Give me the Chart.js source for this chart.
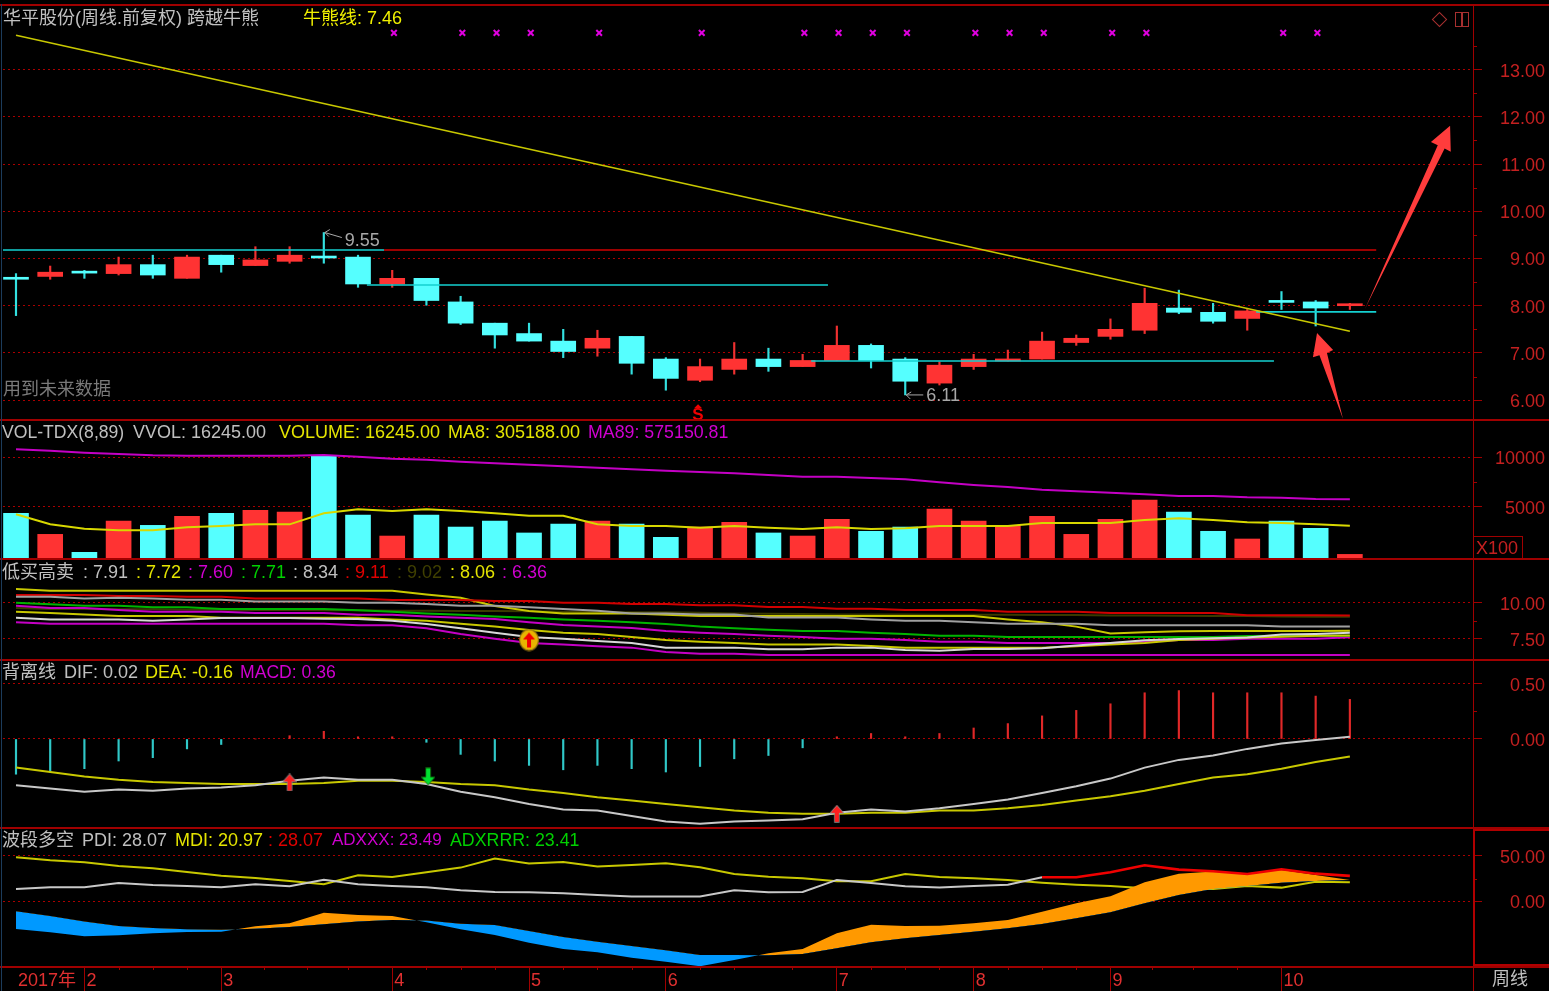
<!DOCTYPE html>
<html><head><meta charset="utf-8">
<script src="https://cdn.jsdelivr.net/npm/chart.js@4/dist/chart.umd.js"></script>
<style>
html,body{margin:0;padding:0;background:#000;width:1549px;height:991px;overflow:hidden}
canvas{position:absolute;left:0;display:block}
.t{position:absolute;white-space:pre;font:18px 'Liberation Sans','Noto Sans CJK SC',sans-serif;line-height:22px;height:22px}
.r{position:absolute;background:#a00000}
</style></head><body>
<script>
// ---------- data ----------
const opens =[8.57,8.62,8.70,8.68,8.87,8.58,9.07,8.85,8.94,9.02,9.03,8.46,8.58,8.08,7.63,7.41,7.25,7.10,7.35,6.87,6.42,6.65,6.87,6.71,6.84,7.16,6.87,6.36,6.71,6.83,6.87,7.22,7.35,7.48,7.95,7.86,7.73,8.08,8.08,8.00];
const highs =[8.68,8.84,8.75,9.03,9.07,9.07,9.07,9.25,9.25,9.55,9.07,8.75,8.58,8.20,7.63,7.63,7.50,7.48,7.35,6.90,6.87,7.22,7.10,6.97,7.57,7.19,6.90,6.81,6.97,7.06,7.44,7.38,7.72,8.37,8.33,8.05,7.92,8.30,8.11,8.05];
const lows  =[7.79,8.56,8.58,8.65,8.58,8.58,8.71,8.85,8.90,8.90,8.39,8.39,8.01,7.60,7.10,7.25,6.90,6.93,6.55,6.21,6.39,6.55,6.61,6.71,6.84,6.68,6.11,6.32,6.65,6.83,6.87,7.16,7.29,7.41,7.83,7.63,7.48,7.92,7.57,7.92];
const closes=[8.56,8.71,8.69,8.87,8.65,9.03,8.87,8.97,9.07,9.01,8.46,8.58,8.11,7.63,7.38,7.25,7.03,7.31,6.78,6.46,6.71,6.87,6.71,6.84,7.16,6.84,6.40,6.74,6.87,6.87,7.25,7.31,7.50,8.05,7.86,7.67,7.89,8.07,7.95,8.01];
const bullBearLine=[{x:0,y:13.73},{x:39,y:7.46}];
const resistLine=[{x:10.76,y:9.18},{x:39.77,y:9.18}];
const cyanLine1=[{x:-0.38,y:9.18},{x:10.76,y:9.18}];
const cyanLine2=[{x:10.26,y:8.44},{x:23.74,y:8.44}];
const cyanLine3=[{x:23.25,y:6.83},{x:36.78,y:6.83}];
const cyanLine4=[{x:36.26,y:7.87},{x:39.77,y:7.87}];
const crossWeeks=[11.05,13.05,14.05,15.05,17.05,20.05,23.05,24.05,25.05,26.05,28.05,29.05,30.05,32.05,33.05,37.05,38.05];
const crossLevel=13.78;
const arrowBig=[[39.44,7.93],[41.77,11.33],[41.95,11.26],[41.93,11.81],[41.37,11.47],[41.57,11.40]];
const arrowSmall=[[38.80,5.60],[38.33,7.00],[38.51,7.06],[38.04,7.42],[37.92,6.91],[38.11,6.95]];
const volume=[4320,2190,370,3540,3100,4010,4320,4620,4450,10120,4150,2020,4150,2930,3540,2330,3240,3540,3240,1890,2930,3410,2330,2020,3710,2500,2930,4760,3540,3100,4010,2190,3710,5670,4450,2500,1720,3540,2800,162];
const ma8=[4217,3205,2766,2598,2598,2901,3036,3205,3205,4318,4723,4554,4723,4554,4318,4081,4081,3205,3036,3036,2867,3036,2867,2732,2901,2732,2800,3036,3036,3036,3340,3340,3340,3643,3812,3643,3407,3340,3205,3052];
const ma89=[10795,10660,10458,10323,10188,10154,10154,10154,10154,10221,10053,9850,9749,9547,9378,9243,9075,8940,8771,8636,8501,8366,8198,8029,8029,7894,7759,7455,7186,6983,6713,6545,6410,6241,6073,6073,5938,5904,5769,5751];
const lowWhite=[8.96,8.84,8.84,8.84,8.75,8.84,8.94,8.94,8.94,8.89,8.87,8.75,8.52,8.22,7.92,7.62,7.50,7.34,7.20,6.88,6.88,6.88,6.76,6.76,6.88,6.88,6.71,6.67,6.78,6.78,6.83,7.02,7.20,7.39,7.48,7.53,7.59,7.80,7.83,7.91];
const lowYellow=[9.38,9.28,9.19,9.08,9.08,9.08,8.96,8.96,8.96,8.96,8.96,8.84,8.75,8.54,8.34,8.10,7.92,7.83,7.62,7.41,7.29,7.20,7.09,7.09,7.09,6.99,6.88,6.88,6.88,6.88,6.88,6.97,7.09,7.20,7.41,7.50,7.59,7.64,7.71,7.72];
const lowMagenta=[9.79,9.63,9.63,9.49,9.38,9.38,9.38,9.28,9.28,9.28,9.17,9.17,9.05,8.96,8.87,8.64,8.45,8.34,8.24,8.03,7.92,7.83,7.71,7.62,7.50,7.50,7.41,7.29,7.29,7.20,7.20,7.20,7.20,7.29,7.41,7.41,7.50,7.50,7.50,7.60];
const lowGreen=[10.00,9.89,9.79,9.79,9.68,9.68,9.56,9.56,9.56,9.56,9.47,9.38,9.26,9.17,9.05,8.96,8.84,8.75,8.64,8.52,8.34,8.22,8.13,8.03,8.03,7.92,7.83,7.71,7.71,7.62,7.62,7.62,7.62,7.62,7.62,7.62,7.69,7.71,7.71,7.71];
const lowGray=[10.42,10.42,10.30,10.35,10.30,10.21,10.21,10.09,10.09,10.09,10.00,10.00,9.91,9.79,9.79,9.68,9.56,9.45,9.26,9.26,9.19,9.19,8.98,8.98,8.98,8.84,8.75,8.75,8.64,8.54,8.54,8.54,8.43,8.43,8.43,8.43,8.43,8.34,8.34,8.34];
const lowRed=[10.53,10.53,10.53,10.47,10.47,10.42,10.42,10.30,10.30,10.30,10.30,10.19,10.19,10.19,10.12,10.12,10.00,10.00,9.91,9.91,9.82,9.82,9.70,9.70,9.59,9.59,9.49,9.49,9.49,9.38,9.38,9.38,9.28,9.28,9.28,9.28,9.13,9.13,9.13,9.11];
const lowOlive=[9.63,9.56,9.56,9.54,9.54,9.52,9.52,9.49,9.49,9.47,9.47,9.45,9.45,9.42,9.42,9.40,9.38,9.36,9.33,9.33,9.31,9.26,9.24,9.21,9.19,9.19,9.19,9.17,9.17,9.17,9.15,9.15,9.12,9.12,9.10,9.08,9.07,9.05,9.03,9.02];
const lowUpperYellow=[10.95,10.84,10.84,10.84,10.84,10.84,10.84,10.84,10.84,10.84,10.84,10.84,10.58,10.35,9.77,9.42,9.26,9.26,9.26,9.17,9.08,9.08,9.08,9.08,9.08,9.08,9.08,9.08,9.08,8.84,8.64,8.34,7.87,7.94,8.01,8.03,8.03,8.03,8.03,8.06];
const lowLowerMagenta=[8.64,8.54,8.54,8.54,8.54,8.54,8.54,8.54,8.54,8.54,8.43,8.43,8.22,7.83,7.50,7.20,7.09,6.97,6.88,6.58,6.46,6.46,6.37,6.37,6.37,6.37,6.37,6.37,6.37,6.37,6.37,6.37,6.37,6.37,6.37,6.37,6.37,6.37,6.37,6.36];
const buySignal=[{x:15,y:7.41}];
const macd=[-0.32,-0.30,-0.27,-0.20,-0.17,-0.09,-0.05,0,0.03,0.07,0.02,0.02,-0.03,-0.14,-0.20,-0.24,-0.28,-0.24,-0.27,-0.30,-0.25,-0.18,-0.15,-0.08,0.02,0.05,0.02,0.05,0.10,0.14,0.21,0.26,0.32,0.42,0.44,0.42,0.42,0.42,0.39,0.36];
const dif=[-0.42,-0.45,-0.48,-0.46,-0.47,-0.45,-0.44,-0.42,-0.38,-0.35,-0.37,-0.37,-0.41,-0.48,-0.53,-0.59,-0.64,-0.65,-0.70,-0.75,-0.77,-0.75,-0.74,-0.73,-0.67,-0.64,-0.66,-0.63,-0.59,-0.55,-0.49,-0.43,-0.36,-0.26,-0.19,-0.15,-0.09,-0.04,-0.01,0.02];
const dea=[-0.26,-0.30,-0.34,-0.37,-0.39,-0.40,-0.41,-0.41,-0.41,-0.40,-0.38,-0.38,-0.39,-0.41,-0.42,-0.46,-0.49,-0.53,-0.56,-0.59,-0.62,-0.65,-0.67,-0.68,-0.68,-0.67,-0.67,-0.65,-0.65,-0.63,-0.60,-0.56,-0.52,-0.47,-0.41,-0.35,-0.32,-0.27,-0.21,-0.16];
const goldCross=[{x:8,y:-0.395},{x:24,y:-0.68}];
const deadCross=[{x:12.05,y:-0.34}];
const pdi=[13.6,15.5,15.5,20.2,18.0,16.9,15.5,18.8,16.6,23.9,18.8,16.9,15.5,12.1,10.3,9.9,8.8,7.0,5.2,5.2,5.2,12.1,9.9,10.3,23.6,20.2,16.6,15.1,16.9,18.4,26.5,null,null,null,null,null,null,null,null,null];
const pdiStrong=[null,null,null,null,null,null,null,null,null,null,null,null,null,null,null,null,null,null,null,null,null,null,null,null,null,null,null,null,null,null,26.5,26.5,32.0,39.7,35.0,33.1,30.2,35.3,30.5,28.07];
const mdi=[48.6,45.3,43.1,39.0,36.4,32.4,28.3,25.8,22.4,18.8,28.7,26.9,32.0,37.2,47.1,41.6,43.4,38.3,40.1,42.0,37.5,30.2,27.2,25.4,22.1,22.1,30.2,26.9,25.4,23.6,20.6,18.4,16.9,14.4,13.6,13.6,16.9,15.1,21.7,20.97];
const adxxx=[-30.5,-34.2,-38.6,-37.5,-35.3,-33.9,-33.5,-27.6,-24.3,-12.5,-15.1,-16.2,-23.2,-30.9,-37.2,-45.6,-52.6,-56.3,-62.2,-66.6,-71.8,-64.8,-57.4,-52.6,-35.3,-25.8,-27.2,-26.9,-24.3,-20.6,-11.4,-2.2,5.5,21.0,30.5,32.8,30.9,34.6,29.1,23.49];
const adxrrr=[-11.0,-16.2,-22.4,-27.2,-29.4,-30.9,-31.3,-30.2,-28.3,-25.4,-22.4,-20.6,-21.3,-24.7,-26.1,-32.8,-39.4,-44.5,-49.3,-54.1,-59.2,-59.2,-59.6,-58.1,-51.9,-45.3,-40.8,-37.2,-33.5,-29.8,-25.0,-18.8,-12.1,-2.2,7.0,13.6,16.9,20.6,22.4,23.41];
const monthTicks=[0,2,6,11,15,19,24,28,32,37];
const monthLabels=['2017年','2','3','4','5','6','7','8','9','10'];
const minorWeeks=[3,4,5,7.25,8.5,9.7,12,13,14,16,17,18,20,21,22.7,25,26,27,29,30,31,33.2,34.4,35.7];
const priceTicks=[6,7,8,9,10,11,12,13];
const priceMinor=[6.5,7.5,8.5,9.5,10.5,11.5,12.5,13.5];
const volTicks=[5000,10000], volMinor=[7500];
const lowTicks=[7.5,10], lowMinor=[8.75];
const macdTicks=[0,0.5], macdMinor=[0.25];
const dmiTicks=[0,50], dmiMinor=[25];
const extremes=[{i:9,v:9.55,text:'9.55',kind:'up'},{i:26,v:6.11,text:'6.11',kind:'down'}];
const sellMark={i:20,v:5.68,text:'S'};

// ---------- palette ----------
const RED='#ff3333',CYAN='#55ffff',AX='#a00000',GRID='#aa0000',LAB='#c42020',YEL='#c8c800',WHT='#c8c8c8',MAG='#c400c4',GRN='#00b400';
const FONT="'Liberation Sans','Noto Sans CJK SC',sans-serif";
const XMIN=-0.38,XMAX=42.6;
const isUp=i=>closes[i]>=opens[i];
const pts=a=>a.map((y,i)=>({x:i,y}));
const upColors=(c1,c2)=>opens.map((_,i)=>isUp(i)?c1:c2);

const lineDs=(data,color,width=2,order=1,extra={})=>Object.assign({type:'line',data,borderColor:color,borderWidth:width,pointRadius:0,tension:0,fill:false,spanGaps:false,order},extra);
const markDs=(data,style,order=0,extra={})=>Object.assign({type:'line',data,showLine:false,pointStyle:style,pointRadius:6,order},extra);
const noMargins=s=>{s._calculatePadding=()=>{s.paddingLeft=s.paddingRight=s.paddingTop=s.paddingBottom=0;};};

// ---------- marker images ----------
function arrowImg(up,color){
  const c=document.createElement('canvas');c.width=14;c.height=18;const g=c.getContext('2d');
  g.save();if(!up){g.translate(0,18);g.scale(1,-1);}
  g.beginPath();g.moveTo(7,1);g.lineTo(13,8);g.lineTo(9,8);g.lineTo(9,17);g.lineTo(5,17);g.lineTo(5,8);g.lineTo(1,8);g.closePath();
  g.lineWidth=1.4;g.strokeStyle=up?'#909090':'#107010';g.stroke();g.fillStyle=color;g.fill();g.restore();
  return c;
}
function ovalImg(){
  const c=document.createElement('canvas');c.width=22;c.height=23;const g=c.getContext('2d');
  g.beginPath();g.ellipse(11,11.5,9.5,10.5,0,0,Math.PI*2);g.fillStyle='#e8b400';g.fill();g.lineWidth=1.2;g.strokeStyle='#8a6a10';g.stroke();
  g.beginPath();g.moveTo(11,4);g.lineTo(17,11);g.lineTo(13,11);g.lineTo(13,19);g.lineTo(9,19);g.lineTo(9,11);g.lineTo(5,11);g.closePath();g.fillStyle='#f00000';g.fill();
  return c;
}

// ---------- plugin: short ticks, arrows and annotations ----------
const extras={id:'extras',afterDraw(chart,_,o){
  const g=chart.ctx,X=chart.scales.x,Y=chart.scales.y;
  g.save();
  g.strokeStyle=AX;g.lineWidth=1;
  (o.minor||[]).forEach(v=>{const p=Math.round(Y.getPixelForValue(v))+.5;g.beginPath();g.moveTo(Y.left,p);g.lineTo(Y.left+4,p);g.stroke();});
  (o.minorX||[]).forEach(v=>{const p=Math.round(X.getPixelForValue(v))+.5;g.beginPath();g.moveTo(p,X.top);g.lineTo(p,X.top+3);g.stroke();});
  (o.polys||[]).forEach(poly=>{g.beginPath();poly.forEach((q,i)=>{const a=X.getPixelForValue(q[0]),b=Y.getPixelForValue(q[1]);i?g.lineTo(a,b):g.moveTo(a,b);});g.closePath();g.fillStyle='#ff3c3c';g.fill();});
  (o.extremes||[]).forEach(e=>{
    const a=X.getPixelForValue(e.i),b=Y.getPixelForValue(e.v);
    g.strokeStyle='#a8a8a8';g.fillStyle='#a8a8a8';g.lineWidth=1;
    const dy=e.kind==='up'?5:0;
    g.beginPath();g.moveTo(a+1,b);g.lineTo(a+18,b+dy);g.moveTo(a+1,b);g.lineTo(a+6,b-3);g.moveTo(a+1,b);g.lineTo(a+5,b+4);g.stroke();
    g.font='18px '+FONT;g.textBaseline='middle';g.textAlign='left';
    g.fillText(e.text,a+21,b+(e.kind==='up'?8:1));
  });
  if(o.sell){const s=o.sell,a=X.getPixelForValue(s.i)-2,b=Y.getPixelForValue(s.v);
    g.fillStyle='#f00000';g.beginPath();g.moveTo(a,b-11);g.lineTo(a+4,b-7);g.lineTo(a-4,b-7);g.closePath();g.fill();
    g.font='bold 17px '+FONT;g.textAlign='center';g.textBaseline='middle';g.fillText(s.text,a,b);}
  g.restore();
}};
Chart.register(extras);

// ---------- panels ----------
function panel(top,height,ymin,ymax,ticks,fmt,datasets,ex,xAxis){
  const c=document.createElement('canvas');c.width=1549;c.height=height;c.style.top=top+'px';document.body.appendChild(c);
  const x=xAxis||{display:false};
  return new Chart(c,{data:{datasets},options:{
    responsive:false,maintainAspectRatio:false,animation:false,devicePixelRatio:1,events:[],
    layout:{autoPadding:false,padding:{left:3,right:4,top:0,bottom:0}},
    datasets:{bar:{grouped:false}},
    plugins:{legend:{display:false},tooltip:{enabled:false},filler:{drawTime:'beforeDatasetDraw',propagate:false},extras:ex||{}},
    scales:{
      x:Object.assign({type:'linear',min:XMIN,max:XMAX,offset:false,beforeUpdate:noMargins},x),
      y:{type:'linear',position:'right',min:ymin,max:ymax,
        beforeUpdate:noMargins,
        afterBuildTicks(s){s.ticks=ticks.map(v=>({value:v}));},
        afterFit(s){s.width=72;},
        border:{display:true,color:AX,dash:[2,3],width:1},
        grid:{color:GRID,lineWidth:1,tickColor:AX,tickLength:9,tickBorderDash:[],drawTicks:true},
        ticks:{color:LAB,font:{size:18,family:FONT},crossAlign:'far',padding:0,labelOffset:2,callback:fmt,autoSkip:false,maxRotation:0}
      }
    }
  }});
}
const f2=v=>v.toFixed(2), f0=v=>String(v);

// price panel
panel(5,414,5.60,14.37,priceTicks,f2,[
  markDs(crossWeeks.map(i=>({x:i,y:crossLevel})),'crossRot',0,{pointRadius:4,pointBorderWidth:2,pointBorderColor:'#e000e0',pointBackgroundColor:'#e000e0'}),
  lineDs(bullBearLine,YEL,1.6,0),
  lineDs(resistLine,'#d00000',1.6,0),
  lineDs(cyanLine1,'#14d0d0',1.6,0),
  lineDs(cyanLine2,'#14d0d0',1.6,0),
  lineDs(cyanLine3,'#14d0d0',1.6,0),
  lineDs(cyanLine4,'#14d0d0',1.6,0),
  {type:'bar',data:opens.map((o,i)=>({x:i,y:[Math.min(o,closes[i]),Math.max(o,closes[i])]})),backgroundColor:upColors(RED,CYAN),barThickness:25,minBarLength:2,order:2},
  {type:'bar',data:opens.map((o,i)=>({x:i,y:[lows[i],highs[i]]})),backgroundColor:upColors('#f03030','#33e0e0'),barThickness:1.5,order:3}
],{minor:priceMinor,polys:[arrowBig,arrowSmall],extremes,sell:sellMark});

// volume panel
panel(420,139,-304,13765,volTicks,f0,[
  lineDs(pts(ma89),MAG,2,0),
  lineDs(pts(ma8),'#d8d800',2,0),
  {type:'bar',data:pts(volume),backgroundColor:upColors(RED,CYAN),barThickness:25,base:-304,order:2}
],{minor:volMinor});

// low-buy / high-sell panel
panel(560,100,6.02,12.97,lowTicks,f2,[
  markDs(buySignal,ovalImg(),0),
  lineDs(pts(lowLowerMagenta),MAG,2,1),
  lineDs(pts(lowWhite),'#d8d8d8',2,1),
  lineDs(pts(lowYellow),YEL,2,2),
  lineDs(pts(lowMagenta),MAG,2,3),
  lineDs(pts(lowGreen),GRN,2,2),
  lineDs(pts(lowGray),'#a0a0a0',2,2),
  lineDs(pts(lowRed),'#d00000',2,2),
  lineDs(pts(lowUpperYellow),YEL,2,2),
  lineDs(pts(lowOlive),'#3a3a00',2,4)
],{minor:lowMinor});

// MACD panel
panel(660,167,-0.80,0.718,macdTicks,f2,[
  markDs(goldCross,arrowImg(true,'#ff1e1e'),0),
  markDs(deadCross,arrowImg(false,'#00e030'),0),
  lineDs(pts(dif),WHT,2,1),
  lineDs(pts(dea),YEL,2,1),
  {type:'bar',data:pts(macd),backgroundColor:macd.map(v=>v>=0?'#e02828':'#30c8c8'),barThickness:1.5,order:2}
],{minor:macdMinor});

// DMI panel with the date axis underneath
panel(828,163,-72.5,80.9,dmiTicks,f2,[
  lineDs(pts(pdiStrong),'#f00000',2.6,0),
  lineDs(pts(adxxx),'rgba(0,0,0,0)',0,1,{fill:{target:'+1',above:'#ff9900',below:'#0099ff'}}),
  lineDs(pts(adxrrr),'rgba(0,0,0,0)',0,1),
  lineDs(pts(pdi),WHT,2,2),
  lineDs(pts(mdi),YEL,2,2)
],{minor:dmiMinor,minorX:minorWeeks},{
  display:true,
  afterBuildTicks(s){s.ticks=monthTicks.map(v=>({value:v}));},
  afterFit(s){s.height=24;},
  border:{display:false},
  grid:{drawOnChartArea:false,drawTicks:true,tickLength:24,tickColor:c=>c.tick&&c.tick.value===0?'rgba(0,0,0,0)':AX},
  ticks:{align:'start',labelOffset:2,padding:-21,color:'#e03030',font:{size:18,family:FONT},autoSkip:false,maxRotation:0,callback:(v,i)=>monthLabels[i]}
});

// ---------- frame ----------
[[0,4,1549,2],[0,419,1549,2],[0,558,1549,2],[0,659,1549,2],[0,827,1549,2],[0,966,1549,2],[1473,4,1,987]].forEach(r=>{
  const d=document.createElement('div');d.className='r';d.style.cssText=`left:${r[0]}px;top:${r[1]}px;width:${r[2]}px;height:${r[3]}px`;document.body.appendChild(d);
});
const leftEdge=document.createElement('div');leftEdge.style.cssText='position:absolute;left:1px;top:4px;width:1px;height:987px;background:#1c3c5c';document.body.appendChild(leftEdge);
const box=(l,t,w,h,b,extra='')=>{const d=document.createElement('div');d.style.cssText=`position:absolute;box-sizing:border-box;left:${l}px;top:${t}px;width:${w}px;height:${h}px;border:${b};${extra}`;document.body.appendChild(d);};
box(1473,829,78,137,'2px solid #b00000');
box(1473,536,50,23,'1px solid #a00000');
box(1434,14,11,11,'1px solid #a83030','transform:rotate(45deg)');
box(1455,12,14,15,'1px solid #a83030');
box(1461,12,1,15,'1px solid #a83030');

// ---------- text ----------
const G='#c0c0c0',Y='#e4e400',M='#d000d0',GN='#00d000',R='#e00000';
const texts=[
 [3,7,'华平股份(周线.前复权) 跨越牛熊',G],[303,7,'牛熊线: 7.46','#f0f000'],
 [3,378,'用到未来数据','#7a7a7a'],
 [2,421,'VOL-TDX(8,89)',G,17.6],[133,421,'VVOL: 16245.00',G],[279,421,'VOLUME: 16245.00',Y],[448,421,'MA8: 305188.00',Y],[588,421,'MA89: 575150.81',M,17.8],
 [2,561,'低买高卖',G],[83,561,': 7.91',G],[136,561,': 7.72',Y],[188,561,': 7.60',M],[241,561,': 7.71',GN],[293,561,': 8.34',G],[345,561,': 9.11',R],[397,561,': 9.02','#404000'],[450,561,': 8.06',Y],[502,561,': 6.36',M],
 [2,661,'背离线',G],[64,661,'DIF: 0.02',G],[145,661,'DEA: -0.16',Y],[240,661,'MACD: 0.36',M,17.6],
 [2,829,'波段多空',G],[82,829,'PDI: 28.07',G],[175,829,'MDI: 20.97',Y],[268,829,': 28.07',R],[332,829,'ADXXX: 23.49',M,17],[450,829,'ADXRRR: 23.41',GN,17.8],
 [1476,537,'X100',LAB],[1492,968,'周线',G]
];
texts.forEach(([x,y,s,c,fs])=>{const d=document.createElement('div');d.className='t';d.style.left=x+'px';d.style.top=y+'px';d.style.color=c;d.textContent=s;if(fs)d.style.fontSize=fs+'px';document.body.appendChild(d);});
</script>
</body></html>
